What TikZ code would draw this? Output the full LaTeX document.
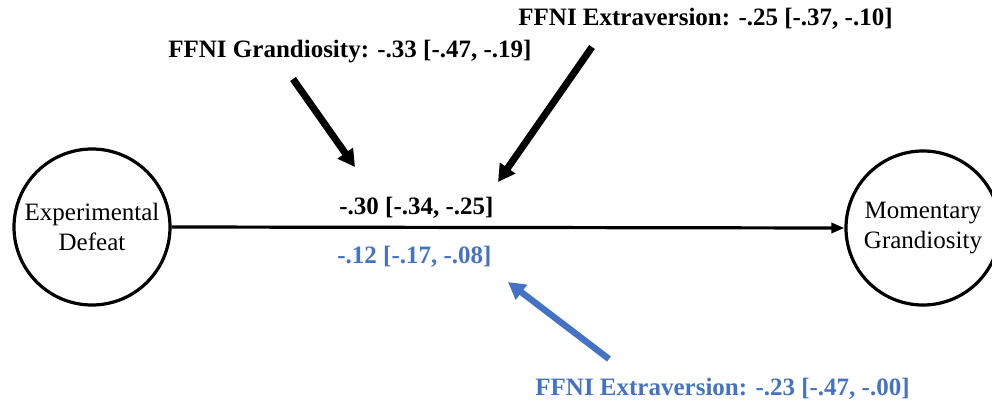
\documentclass[tikz,border=0pt]{standalone}
\usepackage{fontspec}
\setmainfont{Liberation Serif}
\usetikzlibrary{arrows.meta}
\definecolor{effblue}{HTML}{4472C4}
\begin{document}
\begin{tikzpicture}[x=0.5pt,y=-0.5pt,
  var/.style={draw=black,line width=1.6pt,circle,minimum size=#1,inner sep=0pt,
    align=center,font=\fontsize{12.5}{15}\selectfont},
  lab/.style={inner sep=0pt,anchor=base west,font=\fontsize{12.5}{14}\selectfont\bfseries},
  mainarrow/.style={line width=1.6pt,-{Triangle[length=6.5pt,width=5pt]}},
  modarrow/.style={line width=3.5pt,-{Triangle[length=8.5pt,width=9pt]}},
]
\useasboundingbox (0,0) rectangle (992,402);
\clip (0,0) rectangle (992,402);

\node[var=78pt] (a) at (92,227) {Experimental\\Defeat};
\node[var=77pt] (b) at (923,228) {Momentary\\Grandiosity};
\draw[mainarrow] (a.east) -- (b.west);

\node[lab] (lg) at (168,57) {FFNI Grandiosity: -.33 [-.47, -.19]};
\node[lab] (le) at (518,25) {FFNI Extraversion: -.25 [-.37, -.10]};
\node[lab] (lt) at (339,214) {-.30 [-.34, -.25]};
\node[lab,text=effblue] (ld) at (337,263) {-.12 [-.17, -.08]};
\node[lab,text=effblue] (lb) at (535,395) {FFNI Extraversion: -.23 [-.47, -.00]};

\coordinate (g1) at (293,79);
\coordinate (g2) at (355,167);
\coordinate (e1) at (592,47);
\coordinate (e2) at (498,182);
\coordinate (b1) at (609,359);
\coordinate (b2) at (508,282);

\draw[modarrow] (g1) -- (g2);
\draw[modarrow] (e1) -- (e2);
\draw[modarrow,draw=effblue,fill=effblue,line width=3.2pt] (b1) -- (b2);
\end{tikzpicture}
\end{document}
